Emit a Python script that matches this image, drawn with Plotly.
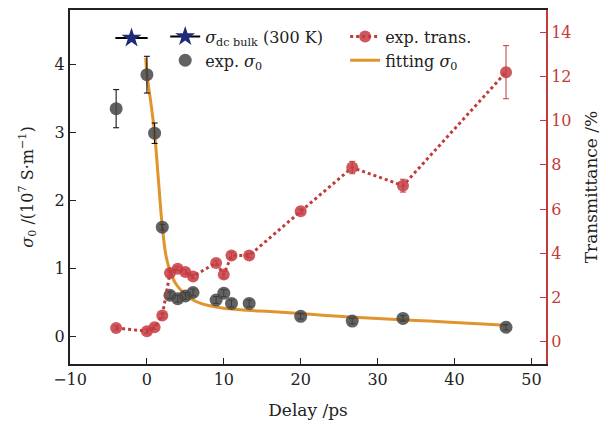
import plotly.graph_objects as go

# ---- data ----
delay = [-4, 0, 1, 2, 3, 4, 5, 6, 9, 10, 11, 13.3, 20, 26.7, 33.3, 46.7]
sigma0 = [3.35, 3.85, 2.99, 1.61, 0.61, 0.56, 0.60, 0.65, 0.54, 0.64, 0.49, 0.49, 0.30, 0.23, 0.27, 0.14]
sigma0_err = [0.28, 0.27, 0.15, 0.04, 0.05, 0.05, 0.05, 0.05, 0.05, 0.05, 0.05, 0.05, 0.04, 0.04, 0.04, 0.04]

trans = [0.63, 0.48, 0.66, 1.19, 3.11, 3.31, 3.16, 2.96, 3.57, 3.04, 3.90, 3.90, 5.90, 7.88, 7.06, 12.19]
trans_err = [0.1, 0.1, 0.1, 0.1, 0.1, 0.1, 0.1, 0.1, 0.1, 0.15, 0.15, 0.1, 0.1, 0.28, 0.29, 1.2]

fit_delay = [-0.15, 0, 0.5, 1, 1.5, 2, 2.5, 3, 3.5, 4, 5, 6, 7, 8, 10, 13, 16, 20, 25, 30, 35, 40, 46.7]
fit_sigma = [4.10, 3.86, 3.45, 2.99, 2.30, 1.62, 1.18, 0.97, 0.83, 0.74, 0.62, 0.54, 0.49, 0.46, 0.42,
             0.39, 0.37, 0.34, 0.30, 0.27, 0.24, 0.21, 0.17]

bulk_delay = [-2]
bulk_sigma = [4.39]
bulk_xerr = [2.1]

FONT = "DejaVu Serif"
RED = "#c23b3b"

fig = go.Figure()

# single point: the line only shows in the legend glyph ("—★—")
fig.add_trace(go.Scatter(
    x=bulk_delay, y=bulk_sigma, mode="lines+markers",
    line=dict(color="black", width=2),
    marker=dict(symbol="star", size=15, color="#1f2a78"),
    error_x=dict(type="data", array=bulk_xerr, color="black", thickness=2, width=0),
    name="<i>σ</i><sub>dc bulk</sub> (300 K)", legend="legend", legendrank=1))

fig.add_trace(go.Scatter(
    x=fit_delay, y=fit_sigma, mode="lines", line=dict(color="#e0942e", width=3, shape="spline"),
    name="fitting <i>σ</i><sub>0</sub>", legend="legend2", legendrank=2))

fig.add_trace(go.Scatter(
    x=delay, y=sigma0, mode="markers",
    marker=dict(size=13, color="rgba(70,70,70,0.85)"),
    error_y=dict(type="data", array=sigma0_err, color="black", thickness=1, width=3),
    name="exp. <i>σ</i><sub>0</sub>", legend="legend", legendrank=2))

fig.add_trace(go.Scatter(
    x=delay, y=trans, mode="lines+markers", yaxis="y2",
    line=dict(color=RED, width=3, dash="dot"),
    marker=dict(size=12, color="rgba(196,60,66,0.85)"),
    error_y=dict(type="data", array=trans_err, color=RED, thickness=1, width=3),
    name="exp. trans.", legend="legend2", legendrank=1))

axis_common = dict(showgrid=False, zeroline=False, ticks="inside", ticklen=6, automargin=False,
                   tickfont=dict(family=FONT, size=16))

# page body adds an 8px offset, so the figure is 8px smaller and margins compensate
fig.update_layout(
    width=601, height=417,
    margin=dict(l=62, r=63, t=2, b=61),
    plot_bgcolor="white", paper_bgcolor="white",
    font=dict(family=FONT, size=16, color="#222"),
    xaxis=dict(range=[-10, 51.9], tickvals=[-10, 0, 10, 20, 30, 40, 50],
               showline=True, linecolor="#222", linewidth=2, mirror=True,
               tickcolor="#222", title=dict(text="Delay /ps", font=dict(family=FONT, size=17), standoff=16),
               **axis_common),
    yaxis=dict(range=[-0.4, 4.8], tickvals=[0, 1, 2, 3, 4],
               showline=True, linecolor="#222", linewidth=2, tickcolor="#222",
               title=dict(text="<i>σ</i><sub>0</sub> /(10<sup>7</sup> S·m<sup>−1</sup>)",
                          font=dict(family=FONT, size=16), standoff=17),
               **axis_common),
    yaxis2=dict(range=[-1, 15], tickvals=[0, 2, 4, 6, 8, 10, 12, 14], overlaying="y", side="right",
                showline=True, linecolor=RED, linewidth=2, tickcolor=RED, automargin=False,
                tickfont=dict(family=FONT, size=16, color=RED),
                title=dict(text="Transmittance /%", font=dict(family=FONT, size=17, color="#222"), standoff=15),
                showgrid=False, zeroline=False, ticks="inside", ticklen=6),
    legend=dict(x=0.2, y=0.973, xanchor="left", yanchor="top", bgcolor="rgba(0,0,0,0)",
                font=dict(family=FONT, size=16), tracegroupgap=0),
    legend2=dict(x=0.578, y=0.973, xanchor="left", yanchor="top", bgcolor="rgba(0,0,0,0)",
                 font=dict(family=FONT, size=16), tracegroupgap=0),
)

fig.write_html("out.html")
